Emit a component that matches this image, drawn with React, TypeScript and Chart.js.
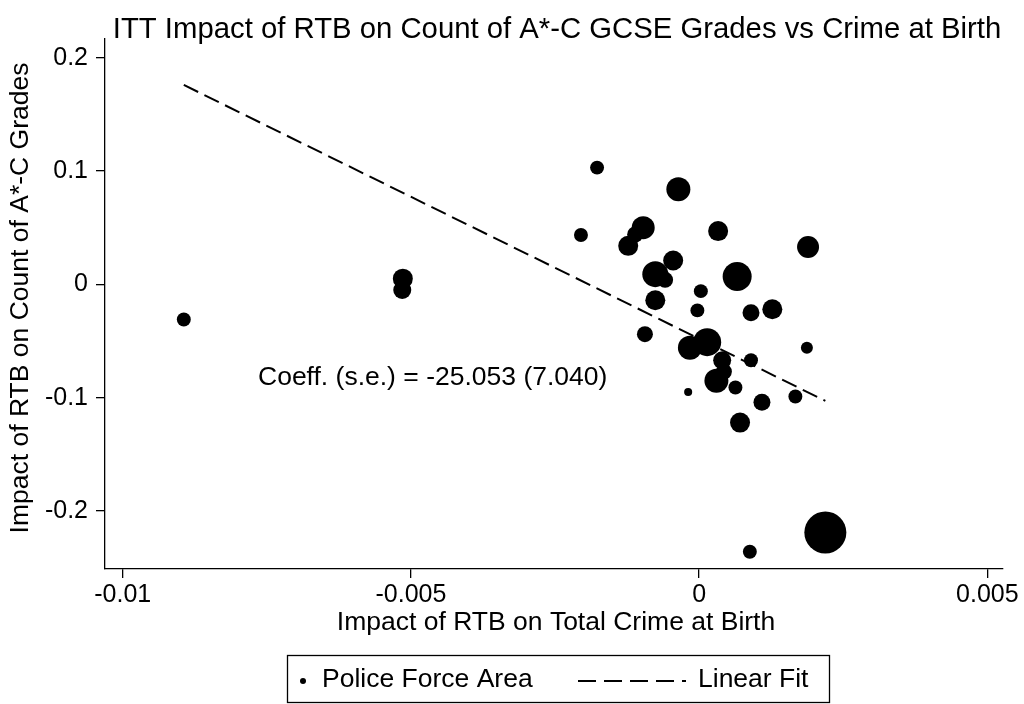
import React, { useEffect, useRef } from "react";
import { Chart, registerables } from "chart.js";

Chart.register(...registerables);

const TITLE = "ITT Impact of RTB on Count of A*-C GCSE Grades vs Crime at Birth";
const X_TITLE = "Impact of RTB on Total Crime at Birth";
const Y_TITLE = "Impact of RTB on Count of A*-C Grades";
const ANNOTATION = "Coeff. (s.e.) = -25.053 (7.040)";
const LEGEND_LABELS = ["Police Force Area", "Linear Fit"];

const X_TICKS = [-0.01, -0.005, 0, 0.005];
const Y_TICKS = [-0.2, -0.1, 0, 0.1, 0.2];
const X_RANGE = [-0.010307, 0.005272];
const Y_RANGE = [-0.2512, 0.2165];

// Police force areas: impact on crime (x), impact on grades (y), weight
const X_VALUES = [
  -0.00894, -0.00514, -0.00515, -0.00177, -0.00205, -0.00036, -0.00097, -0.00111,
  -0.00123, 0.00033, 0.00189, -0.00045, -0.00076, -0.00059, 0.00066, 0.00003,
  -0.00076, -0.00003, 0.0009, 0.00127, -0.00094, 0.00014, -0.00016, 0.00187,
  0.0004, 0.0009, 0.0003, 0.00043, 0.00063, -0.00019, 0.00109, 0.00167,
  0.00071, 0.00219, 0.00088,
];
const Y_VALUES = [
  -0.031, 0.005, -0.005, 0.103, 0.0435, 0.084, 0.05, 0.044,
  0.034, 0.047, 0.033, 0.021, 0.009, 0.004, 0.007, -0.006,
  -0.014, -0.023, -0.025, -0.022, -0.044, -0.051, -0.056, -0.056,
  -0.067, -0.067, -0.085, -0.077, -0.091, -0.095, -0.104, -0.099,
  -0.122, -0.219, -0.236,
];
const WEIGHTS = [
  5.4, 11.1, 9, 5.4, 5.4, 16, 14.7, 7.1,
  11.1, 11.1, 13.4, 11.1, 18.8, 7.1, 23.4, 5.4,
  11.1, 5.4, 8, 11.1, 7.1, 21.8, 16, 4,
  9, 5.4, 16, 7.1, 5.4, 1.8, 8, 5.4,
  11.1, 49, 5.4,
];

const FIT_SLOPE = -25.053;
const FIT_INTERCEPT = -0.048;

const FONT = '"Liberation Sans", Arial, Helvetica, sans-serif';

export default function App() {
  const ref = useRef<HTMLCanvasElement | null>(null);

  useEffect(() => {
    const canvas = ref.current;
    if (!canvas) return;

    const xMin = Math.min(...X_VALUES);
    const xMax = Math.max(...X_VALUES);
    const fitData = [xMin, xMax].map((x) => ({ x, y: FIT_INTERCEPT + FIT_SLOPE * x }));

    const textPlugin = {
      id: "stataText",
      afterDraw(chart: any) {
        const ctx = chart.ctx as CanvasRenderingContext2D;
        const ca = chart.chartArea;
        const cx = (ca.left + ca.right) / 2;
        ctx.save();
        ctx.fillStyle = "#000";
        ctx.strokeStyle = "#000";

        // title
        ctx.font = `29.3px ${FONT}`;
        ctx.textAlign = "center";
        ctx.textBaseline = "middle";
        ctx.fillText(TITLE, cx + 3, 30);

        // x title
        ctx.font = `26.5px ${FONT}`;
        ctx.fillText(X_TITLE, cx + 2, 623);

        // y title
        ctx.save();
        ctx.translate(21, (ca.top + ca.bottom) / 2 - 6);
        ctx.rotate(-Math.PI / 2);
        ctx.fillText(Y_TITLE, 0, 0);
        ctx.restore();

        // annotation
        ctx.textAlign = "left";
        ctx.fillText(ANNOTATION, 258, 378);

        // legend
        ctx.lineWidth = 1.3;
        ctx.strokeRect(287.5, 655.5, 542, 47);
        ctx.beginPath();
        ctx.arc(303, 681, 3, 0, Math.PI * 2);
        ctx.fill();
        ctx.fillText(LEGEND_LABELS[0], 322, 680);
        ctx.lineWidth = 2;
        ctx.setLineDash([18, 8]);
        ctx.beginPath();
        ctx.moveTo(578, 681);
        ctx.lineTo(686, 681);
        ctx.stroke();
        ctx.setLineDash([]);
        ctx.fillText(LEGEND_LABELS[1], 698, 680);
        ctx.restore();
      },
    };

    const chart = new Chart(canvas, {
      type: "bubble",
      data: {
        datasets: [
          {
            type: "bubble",
            label: LEGEND_LABELS[0],
            data: X_VALUES.map((x, i) => ({ x, y: Y_VALUES[i], r: 3 * Math.sqrt(WEIGHTS[i]) })),
            backgroundColor: "#000",
            borderWidth: 0,
            hoverBorderWidth: 0,
          } as any,
          {
            type: "line",
            label: LEGEND_LABELS[1],
            data: fitData,
            borderColor: "#000",
            borderWidth: 2,
            borderDash: [16, 7],
            pointRadius: 0,
            fill: false,
            tension: 0,
          } as any,
        ],
      },
      options: {
        responsive: false,
        animation: false,
        layout: { padding: { top: 39, right: 21, left: 0, bottom: 0 } },
        plugins: {
          legend: { display: false },
          title: { display: false },
          tooltip: { enabled: false },
        },
        scales: {
          x: {
            type: "linear",
            min: X_RANGE[0],
            max: X_RANGE[1],
            afterBuildTicks: (s: any) => {
              s.ticks = X_TICKS.map((v) => ({ value: v }));
            },
            afterFit: (s: any) => {
              s.height = 704 - 569;
            },
            grid: { drawOnChartArea: false, drawTicks: true, tickLength: 9, color: "#000", lineWidth: 1.3 },
            border: { display: true, color: "#000", width: 1.3 },
            ticks: {
              color: "#000",
              font: { family: FONT, size: 25 },
              padding: 2,
              maxRotation: 0,
              autoSkip: false,
              callback: (v: any) => String(v),
            },
          },
          y: {
            type: "linear",
            min: Y_RANGE[0],
            max: Y_RANGE[1],
            afterBuildTicks: (s: any) => {
              s.ticks = Y_TICKS.map((v) => ({ value: v }));
            },
            afterFit: (s: any) => {
              s.width = 105;
            },
            grid: { drawOnChartArea: false, drawTicks: true, tickLength: 9, color: "#000", lineWidth: 1.3 },
            border: { display: true, color: "#000", width: 1.3 },
            ticks: {
              color: "#000",
              font: { family: FONT, size: 25 },
              padding: 8,
              autoSkip: false,
              callback: (v: any) => String(v),
            },
          },
        },
      } as any,
      plugins: [textPlugin],
    });

    return () => chart.destroy();
  }, []);

  return (
    <div style={{ position: "fixed", left: 0, top: 0, width: 1024, height: 704, background: "#fff" }}>
      <canvas ref={ref} width={1024} height={704} style={{ display: "block" }} />
    </div>
  );
}
